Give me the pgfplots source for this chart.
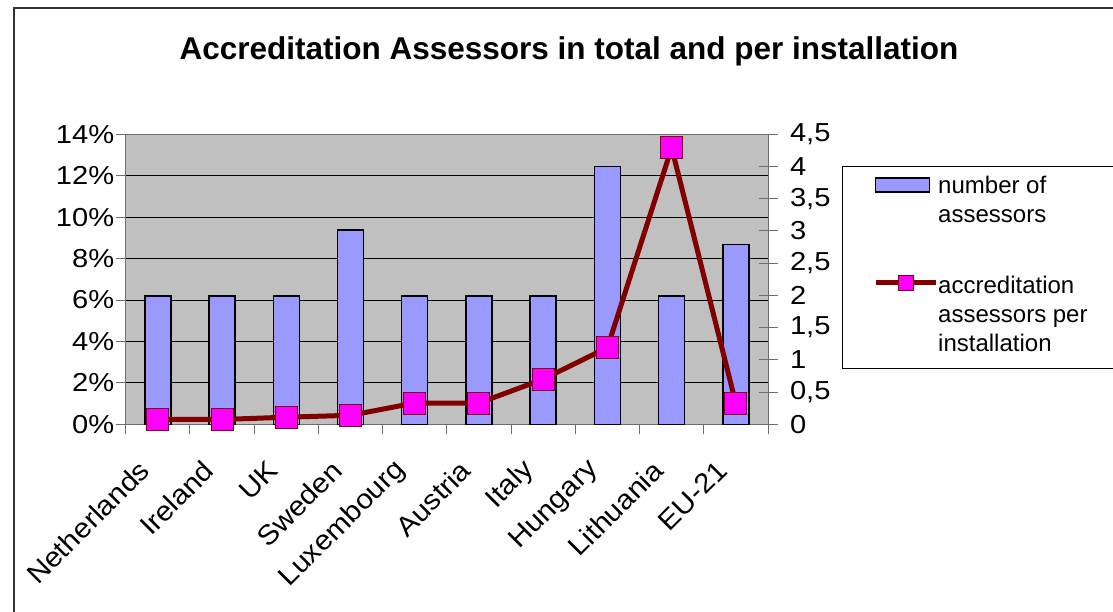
\documentclass[border=0pt]{standalone}
\usepackage{pgfplots}
\pgfplotsset{compat=1.18}
\usepackage{fontspec}
\setmainfont{Liberation Sans}
\newfontfamily\widefont[FakeStretch=1.12]{Liberation Sans}
\newfontfamily\catfont[FakeStretch=1.08]{Liberation Sans}
\definecolor{plotgray}{RGB}{192,192,192}
\definecolor{barblue}{RGB}{153,153,255}
\definecolor{darkred}{RGB}{128,0,0}
\definecolor{mag}{RGB}{255,0,255}
\definecolor{axgray}{RGB}{110,110,110}

\pgfplotstableread{
x  share
0  6.2
1  6.2
2  6.2
3  9.37
4  6.2
5  6.2
6  6.2
7  12.45
8  6.2
9  8.67
}\sharetable

\pgfplotstableread{
x  perinst
0  0.075
1  0.075
2  0.11
3  0.14
4  0.33
5  0.33
6  0.70
7  1.19
8  4.29
9  0.32
}\pertable

\begin{document}
\begin{tikzpicture}[x=1pt,y=1pt]
\useasboundingbox (0,0) rectangle (1113,611);
\draw[line width=1.5pt, black!80] (14,-20) -- (14,603) -- (1130,603);
\node[font=\fontsize{31.5}{36}\selectfont\bfseries] at (569,560) {Accreditation Assessors in total and per installation};
\draw[line width=1pt, black] (842,444) rectangle (1130,242.7);

\begin{axis}[
  at={(125.7pt,186.7pt)}, anchor=south west,
  scale only axis, width=642.3pt, height=290pt,
  xmin=-0.5, xmax=9.5, ymin=0, ymax=14,
  axis background/.style={fill=plotgray},
  axis line style={draw=axgray, line width=1pt},
  tick pos=left,
  ytick={0,2,...,14},
  yticklabel={\pgfmathprintnumber{\tick}\%},
  ymajorgrids, grid style={black, line width=0.8pt},
  xtick={0,...,9},
  xticklabels={Netherlands,Ireland,UK,Sweden,Luxembourg,Austria,Italy,Hungary,Lithuania,EU-21},
  minor xtick={-0.5,0.5,...,9.5},
  major x tick style={draw=none},
  minor x tick style={draw=axgray, line width=1pt},
  major y tick style={draw=axgray, line width=1pt},
  tick align=outside,
  major tick length=10pt, minor tick length=10pt,
  /pgf/number format/assume math mode=true,
  yticklabel style={font=\widefont\fontsize{26}{30}\selectfont, xshift=2pt},
  xticklabel style={font=\catfont\fontsize{27.5}{32}\selectfont, xshift=-11pt, yshift=-29pt, rotate=45, anchor=east},
]
\addplot[ybar, bar width=0.405, fill=barblue, draw=black, line width=1.5pt] table[x=x, y=share] {\sharetable};
\end{axis}

\begin{axis}[
  at={(125.7pt,186.7pt)}, anchor=south west,
  scale only axis, width=642.3pt, height=290pt,
  xmin=-0.5, xmax=9.5, ymin=0, ymax=4.5,
  axis x line=none, axis y line*=right,
  axis line style={draw=axgray, line width=1pt},
  ytick={0,0.5,...,4.5},
  /pgf/number format/assume math mode=true,
  yticklabel style={font=\widefont\fontsize{26}{30}\selectfont, xshift=9pt,
    /pgf/number format/.cd, use comma, fixed, precision=1},
  major y tick style={draw=axgray, line width=1pt},
  tick align=center, major tick length=19pt,
  clip=false,
  legend cell align=left,
  legend style={draw=none, fill=none, at={(1.1635,0.874)}, anchor=north west,
    inner sep=0pt, row sep=74pt,
    font=\fontsize{24}{29}\selectfont,
    nodes={inner xsep=0pt},
    /tikz/every even column/.append style={column sep=4pt}},
]
\addlegendimage{legend image code/.code={\draw[fill=barblue, draw=black, line width=1.2pt] (0pt,-8pt) rectangle (54pt,6pt);}}
\addlegendentry{\begin{tabular}[t]{@{}l@{}}number of\\assessors\end{tabular}}
\addplot[draw=darkred, line width=5pt, mark=square*, mark size=11pt,
  mark options={fill=mag, draw=darkred, line width=1pt},
  legend image code/.code={
    \draw[draw=darkred, line width=5pt] (0pt,1pt) -- (60pt,1pt);
    \draw[fill=mag, draw=darkred, line width=1pt] (22.5pt,-6.5pt) rectangle (37.5pt,8.5pt);}
  ] table[x=x, y=perinst] {\pertable};
\addlegendentry{\begin{tabular}[t]{@{}l@{}}accreditation\\assessors per\\installation\end{tabular}}
\end{axis}
\end{tikzpicture}
\end{document}
